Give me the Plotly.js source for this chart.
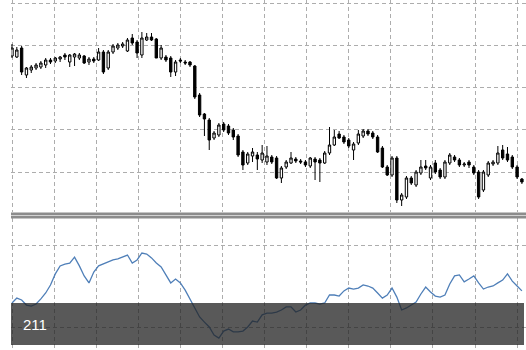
<!DOCTYPE html>
<html>
<head>
<meta charset="utf-8">
<script src="https://cdn.plot.ly/plotly-3.0.1.min.js"></script>
<style>html,body{margin:0;padding:0;background:#fff;}#chart{width:526px;height:350px;}</style>
</head>
<body>
<div id="chart"></div>
<script>
// Candle values (price units), one per bar
const openP  = [244,243,252,225,230,232,233,235,240,239,241,245,238,243,242,244,238,241,240,248,232,248,252,254,249,262,258,245,260,263,261,242,243,242,228,240,238,238,234,205,186,180,162,165,176,174,170,164,148,137,144,145,140,138,143,142,122,133,137,141,139,138,134,141,140,137,147,155,166,163,160,150,157,164,169,167,163,152,133,125,142,100,103,122,115,127,134,122,137,130,123,137,143,140,135,138,133,128,110,125,136,137,150,146,143,133,121];
const highP  = [256,253,254,233,235,237,239,242,242,243,244,247,246,247,247,245,243,243,252,250,250,256,257,258,262,266,260,268,267,267,262,255,245,244,240,242,240,239,235,207,187,182,169,177,178,176,172,166,150,148,152,148,155,154,145,144,134,140,148,143,141,140,143,143,142,149,173,170,169,165,162,158,170,171,171,169,165,154,135,144,144,107,124,124,130,140,140,135,140,132,140,147,145,142,138,140,135,130,130,139,140,154,155,153,145,135,122];
const lowP   = [242,242,225,222,227,230,231,232,236,237,238,240,233,234,240,236,235,237,239,226,230,246,250,252,248,255,242,242,259,259,242,240,238,223,224,237,235,233,201,183,164,150,160,163,168,165,160,143,130,135,138,130,137,135,136,121,117,131,136,137,136,133,132,120,118,136,145,154,161,156,152,140,155,162,164,161,147,132,124,123,97,94,101,115,113,125,130,120,126,121,121,135,138,133,133,132,125,101,108,123,134,135,140,138,131,121,116];
const closeP = [252,250,228,232,233,235,237,240,238,242,243,243,245,246,245,237,241,239,248,228,248,254,255,256,260,257,247,262,263,260,242,252,240,228,238,239,237,235,203,185,181,160,167,175,170,167,163,145,135,146,148,141,147,144,138,122,132,138,142,139,138,135,142,138,137,147,155,163,162,158,154,156,166,169,166,163,148,133,125,142,100,105,122,117,128,133,132,133,128,123,138,145,140,135,136,135,127,103,128,137,138,147,142,140,133,123,118];
// Oscillator values, one per bar
const oscV = [41.7,44.1,43.2,40.7,40.2,41.2,43.7,46.6,50.5,55.9,59.8,60.7,61.2,64.1,59.8,54.9,51.5,56.8,59.8,60.7,61.7,62.7,63.2,64.1,65.1,61.2,62.7,66.1,65.6,63.7,61.2,59.3,55.4,51.5,53.4,51.5,48.0,43.7,38.8,34.9,32.4,30.0,26.1,24.6,28.0,29.0,27.6,27.6,28.0,30.0,32.9,32.4,35.9,36.8,36.8,37.3,38.3,39.8,39.8,37.3,38.3,40.7,41.7,41.7,41.2,41.7,45.6,45.6,45.1,47.6,49.0,48.5,49.0,50.5,50.0,49.0,46.6,44.1,45.6,49.0,44.6,38.3,39.3,40.7,42.2,46.1,49.5,47.1,45.1,44.6,45.6,51.0,54.9,55.4,52.0,53.4,54.9,51.5,48.5,49.5,50.0,51.5,52.9,55.9,52.4,50.0,47.6];
const oscLevels = [30, 70];
const overlayLabel = "211";

const bars = openP.map((_, i) => i);

const W = 526, H = 350, L = 11;
const px = x => (x - L) / (W - L);
const py = y => 1 - y / H;

const gridColor = '#adadad';
const dash = '4px,3px';

const traces = [
  {
    type: 'candlestick', x: bars, open: openP, high: highP, low: lowP, close: closeP,
    xaxis: 'x', yaxis: 'y',
    increasing: {line: {color: '#000', width: 1}, fillcolor: '#fff'},
    decreasing: {line: {color: '#000', width: 1}, fillcolor: '#000'},
    whiskerwidth: 0, hoverinfo: 'skip', showlegend: false
  },
  {
    type: 'scatter', mode: 'lines', x: bars.slice(0, oscV.length), y: oscV,
    xaxis: 'x', yaxis: 'y2',
    line: {color: '#4f7fb8', width: 1.3}, hoverinfo: 'skip', showlegend: false
  }
];

const layout = {
  width: W, height: H,
  margin: {l: L, r: 0, t: 0, b: 0},
  paper_bgcolor: '#fff', plot_bgcolor: '#fff',
  showlegend: false,
  xaxis: {
    range: [-0.21, 106.85], tick0: 0, dtick: 8.75, showgrid: true,
    gridcolor: gridColor, griddash: dash, gridwidth: 1,
    showticklabels: false, ticks: '', zeroline: false, showline: false,
    rangeslider: {visible: false}, anchor: 'y2', fixedrange: true
  },
  yaxis: {
    domain: [py(212), 1], range: [88, 300], tick0: 297, dtick: 42.25,
    showgrid: true, gridcolor: gridColor, griddash: dash, gridwidth: 1,
    showticklabels: false, ticks: '', zeroline: false, showline: false
  },
  yaxis2: {
    domain: [0, py(218)], range: [18.78, 83.17], tickmode: 'array', tickvals: oscLevels,
    showgrid: true, gridcolor: gridColor, griddash: dash, gridwidth: 1,
    showticklabels: false, ticks: '', zeroline: false, showline: false
  },
  shapes: [
    {type: 'rect', xref: 'paper', yref: 'paper', x0: 0, x1: 1, y0: py(218.5), y1: py(212.5),
     fillcolor: '#8c8c8c', line: {width: 0}, layer: 'above'},
    {type: 'line', xref: 'paper', yref: 'paper', x0: 0, x1: 1, y0: py(215.5), y1: py(215.5),
     line: {color: '#d2d2d2', width: 1}, layer: 'above'},
    {type: 'rect', xref: 'paper', yref: 'paper', x0: px(11), x1: px(524), y0: py(345), y1: py(303),
     fillcolor: 'rgba(34,34,34,0.75)', line: {width: 0}, layer: 'above'}
  ],
  annotations: [
    {xref: 'paper', yref: 'paper', x: px(21), y: py(324.5), xanchor: 'left', yanchor: 'middle',
     text: overlayLabel, showarrow: false,
     font: {family: 'Liberation Sans, Arial, sans-serif', size: 15, color: '#fff'}}
  ]
};

Plotly.newPlot('chart', traces, layout, {staticPlot: true, displayModeBar: false});
</script>
</body>
</html>
